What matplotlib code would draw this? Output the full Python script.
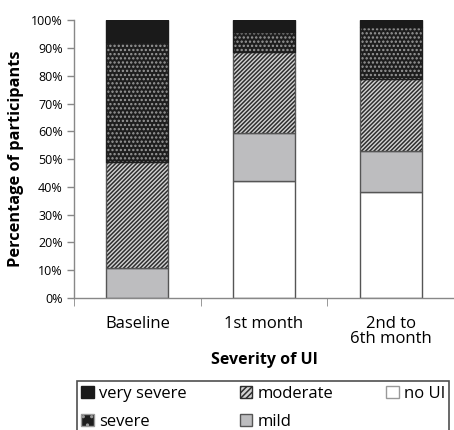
import matplotlib
matplotlib.use('Agg')
import matplotlib.pyplot as plt
from matplotlib.patches import Patch
import numpy as np

plt.rcParams['font.family'] = ['Open Sans', 'DejaVu Sans']
plt.rcParams['hatch.linewidth'] = 1.1

# Data (percent of participants)
categories = ['Baseline', '1st month', '2nd to\n6th month']
no_ui = [0, 42, 38.2]
mild = [10.9, 17.5, 14.8]
moderate = [37.9, 28.9, 25.7]
severe = [43.4, 7.4, 18.9]
very_severe = [7.8, 4.2, 2.4]

edge = '#555555'
x = np.arange(len(categories))
w = 0.49

fig = plt.figure(figsize=(4.54, 4.30), dpi=100)
ax = fig.add_axes([0.163, 0.307, 0.837, 0.646])

bottom = np.zeros(len(categories))
# no UI
ax.bar(x, no_ui, w, bottom=bottom, color='white', edgecolor=edge, lw=1)
bottom += no_ui
# mild
ax.bar(x, mild, w, bottom=bottom, color='#bdbdbf', edgecolor=edge, lw=1)
bottom += mild
# moderate: dense diagonal hatch
ax.bar(x, moderate, w, bottom=bottom, color='#d4d4d4', edgecolor='#2e2e2e',
       hatch='////////', lw=0)
ax.bar(x, moderate, w, bottom=bottom, fill=False, edgecolor=edge, lw=1)
bottom += moderate
# severe: dark with light dots
ax.bar(x, severe, w, bottom=bottom, color='#1e1e1e', edgecolor='#9a9a9a',
       hatch='....', lw=0)
ax.bar(x, severe, w, bottom=bottom, fill=False, edgecolor='#1e1e1e', lw=1)
bottom += severe
# very severe
ax.bar(x, very_severe, w, bottom=bottom, color='#1a1a1a', edgecolor='#1a1a1a', lw=1)

ax.set_xlim(-0.5, 2.5)
ax.set_ylim(0, 100)
ax.set_yticks(np.arange(0, 101, 10))
ax.set_yticklabels([f'{v}%' for v in range(0, 101, 10)], fontsize=9)
ax.set_xticks(x)
ax.set_xticklabels(categories, fontsize=12, linespacing=0.9)
ax.tick_params(axis='x', length=0, pad=13)
ax.tick_params(axis='y', length=5, color='#888888', width=1, pad=3)
# category separators on x axis
ax.set_xticks([-0.5, 0.5, 1.5, 2.5], minor=True)
ax.tick_params(axis='x', which='minor', length=6, color='#888888', direction='out')

for s in ['top', 'right']:
    ax.spines[s].set_visible(False)
for s in ['left', 'bottom']:
    ax.spines[s].set_color('#888888')
    ax.spines[s].set_linewidth(1)

ax.set_ylabel('Percentage of participants', fontsize=11.8, fontweight='bold', labelpad=5)
ax.set_xlabel('Severity of UI', fontsize=11.5, fontweight='bold', labelpad=4)

handles = [
    Patch(facecolor='#1a1a1a', edgecolor='#1a1a1a', label='very severe'),
    Patch(facecolor='#1e1e1e', edgecolor='#9a9a9a', hatch='..', label='severe'),
    Patch(facecolor='#d4d4d4', edgecolor='#2e2e2e', hatch='//////', label='moderate'),
    Patch(facecolor='#bdbdbf', edgecolor=edge, label='mild'),
    Patch(facecolor='white', edgecolor='#999999', label='no UI'),
]
leg = fig.legend(handles=handles, ncol=3, loc='upper left',
                 bbox_to_anchor=(0.17, 0.113), fontsize=12, frameon=True,
                 fancybox=False, edgecolor='#222222', handlelength=0.75,
                 handleheight=0.75, handletextpad=0.3, columnspacing=3.2,
                 borderpad=0.25, labelspacing=0.75, borderaxespad=0)
leg.get_frame().set_linewidth(1.2)

fig.savefig('out.png', dpi=100)
